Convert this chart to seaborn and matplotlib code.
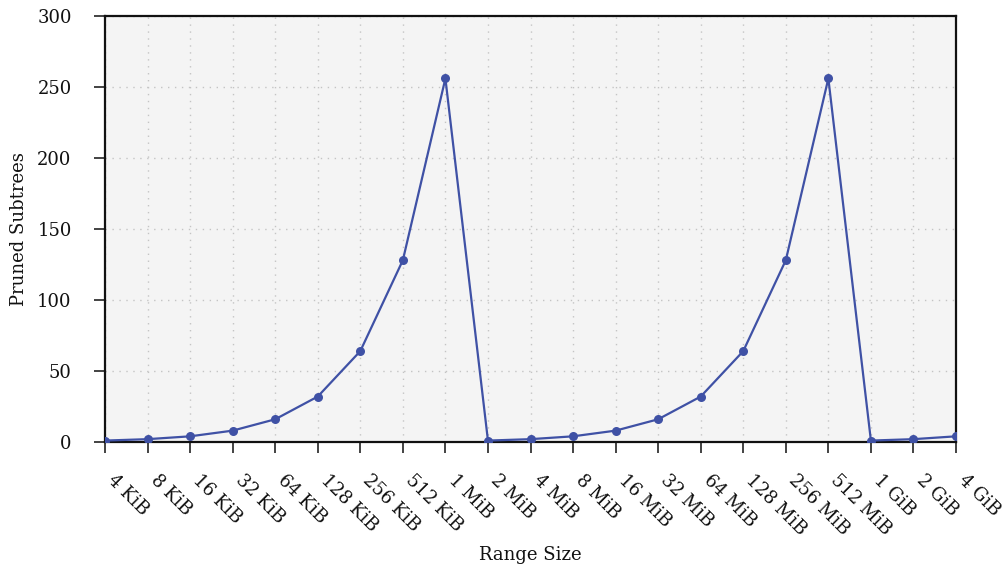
import matplotlib
matplotlib.use("Agg")
import matplotlib.pyplot as plt
import matplotlib.transforms as mtransforms
import seaborn as sns
import pandas as pd

sizes = ["4 KiB", "8 KiB", "16 KiB", "32 KiB", "64 KiB", "128 KiB", "256 KiB", "512 KiB",
         "1 MiB", "2 MiB", "4 MiB", "8 MiB", "16 MiB", "32 MiB", "64 MiB", "128 MiB",
         "256 MiB", "512 MiB", "1 GiB", "2 GiB", "4 GiB"]
pruned = [1, 2, 4, 8, 16, 32, 64, 128, 256, 1, 2, 4, 8, 16, 32, 64, 128, 256, 1, 2, 4]
yticks = [0, 50, 100, 150, 200, 250, 300]

sns.set_style("white")
plt.rcParams['font.family'] = ['DejaVu Serif']
plt.rcParams['font.size'] = 13
plt.rcParams['text.color'] = '#111111'
plt.rcParams['axes.labelcolor'] = '#111111'
plt.rcParams['xtick.color'] = '#111111'
plt.rcParams['ytick.color'] = '#111111'

df = pd.DataFrame({"Range Size": sizes, "Pruned Subtrees": pruned, "idx": range(len(sizes))})

fig = plt.figure(figsize=(10.03, 5.69), dpi=100)
ax = fig.add_axes([105/1003, 1-442/569, (956-105)/1003, (442-16)/569])
ax.set_facecolor("#f4f4f4")

sns.lineplot(data=df, x="idx", y="Pruned Subtrees", ax=ax, color="#3f51a5",
             marker="o", markersize=6.5, markeredgewidth=0, linewidth=1.6, sort=False, zorder=3)

ax.set_xlim(0, len(sizes) - 1)
ax.set_ylim(0, 300)
ax.set_yticks(yticks)
ax.set_xticks(range(len(sizes)))
ax.set_xticklabels(sizes, rotation=-45, ha="left", va="top", rotation_mode="anchor")
ax.tick_params(axis="both", direction="out", length=8, width=1.2, color="#222222",
               labelsize=13, labelcolor="#111111", bottom=True, left=True)
ax.tick_params(axis="y", pad=16)
ax.tick_params(axis="x", pad=13)
offset = mtransforms.ScaledTranslation(12/100, 0, fig.dpi_scale_trans)
for lbl in ax.get_xticklabels():
    lbl.set_transform(lbl.get_transform() + offset)
ax.grid(True, linestyle=(0, (1, 4)), color="#c4c4c4", linewidth=1)
for s in ax.spines.values():
    s.set_visible(True)
    s.set_color("#111111")
    s.set_linewidth(1.6)
ax.set_xlabel("Range Size", fontsize=13, color="#111111")
ax.set_ylabel("Pruned Subtrees", fontsize=13, color="#111111")
ax.yaxis.set_label_coords(-0.09, 0.5)
ax.xaxis.set_label_coords(0.5, -0.243)

fig.savefig("out.png", dpi=100)
